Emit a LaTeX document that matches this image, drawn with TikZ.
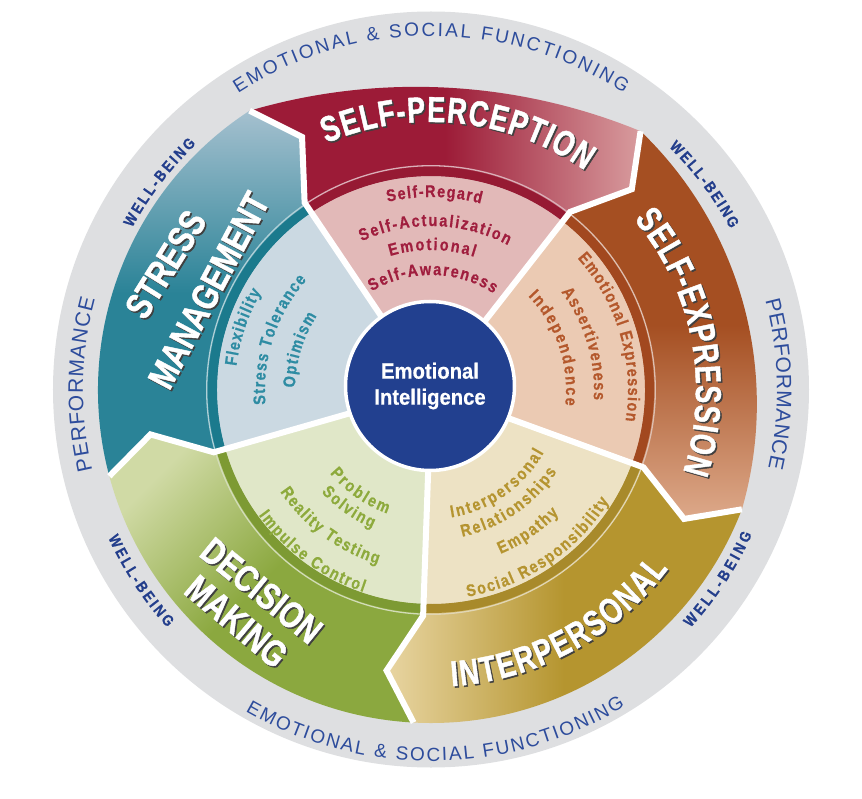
\documentclass[tikz,border=0pt]{standalone}
\usepackage{fontspec}
\setmainfont{Liberation Sans}
\newfontfamily\cndA[FakeStretch=0.75,FakeBold=1.2]{Liberation Sans}
\newfontfamily\cndB[FakeStretch=0.80,FakeBold=1.2]{Liberation Sans}
\newfontfamily\cndC[FakeStretch=0.85,FakeBold=0.6]{Liberation Sans}
\newfontfamily\cndD[FakeStretch=0.92,FakeBold=0.5]{Liberation Sans}
\usetikzlibrary{decorations.text}

\definecolor{ringgrey}{HTML}{DEDFE1}
\definecolor{ringblue}{HTML}{2D4C9C}
\definecolor{wbblue}{HTML}{233E8C}
\definecolor{eiblue}{HTML}{22408F}
\definecolor{spdark}{HTML}{9C1B37}
\definecolor{splight}{HTML}{D89C9E}
\definecolor{spin}{HTML}{E2B9B8}
\definecolor{spring}{HTML}{961A33}
\definecolor{sptext}{HTML}{A01E3E}
\definecolor{sedark}{HTML}{A54F22}
\definecolor{selight}{HTML}{DDA98A}
\definecolor{sein}{HTML}{EBCAB3}
\definecolor{sering}{HTML}{A2481F}
\definecolor{setext}{HTML}{B4582C}
\definecolor{ipdark}{HTML}{B5952F}
\definecolor{iplight}{HTML}{E8D5A2}
\definecolor{ipin}{HTML}{EDE2C4}
\definecolor{ipring}{HTML}{A88A2B}
\definecolor{iptext}{HTML}{B59430}
\definecolor{dmdark}{HTML}{8BA83F}
\definecolor{dmlight}{HTML}{D0DAA5}
\definecolor{dmin}{HTML}{E0E7C8}
\definecolor{dmring}{HTML}{7D9A33}
\definecolor{dmtext}{HTML}{8DAA3C}
\definecolor{smdark}{HTML}{2A8397}
\definecolor{smlight}{HTML}{A5C0CF}
\definecolor{smin}{HTML}{CBD9E2}
\definecolor{smring}{HTML}{1B7A8D}
\definecolor{smtext}{HTML}{2E8CA3}
\definecolor{shadowc}{HTML}{404040}

\newcommand\ttlfont{\cndA\bfseries\fontsize{36}{36}\selectfont}
\newcommand\nttlfont{\cndB\bfseries\fontsize{37}{37}\selectfont}
\newcommand\inrfont{\cndC\bfseries\fontsize{17}{17}\selectfont}
\newcommand\rngfont{\fontsize{19}{19}\selectfont}
\newcommand\wbfont{\cndC\bfseries\fontsize{15.5}{15.5}\selectfont}
\newcommand\perffont{\fontsize{21}{21}\selectfont}
\newcommand\eifont{\cndD\bfseries\fontsize{22}{26}\selectfont}

\tikzset{ttlnode/.style={font=\nttlfont,inner sep=0pt,text height=27pt,text depth=0pt}}

% #1 colour, #2 font, #3 radius, #4 start angle, #5 end angle, #6 text
\newcommand\arctext[6]{%
  \path[decorate,decoration={text along path,text align=fit to path,
        text={|#2\color{#1}|#6}}]
    (#4:#3) arc[start angle=#4,end angle=#5,radius=#3pt];}
% #1 radius, #2 start, #3 end, #4 text
\newcommand\arctitle[4]{%
  \path[xshift=1.5pt,yshift=-1.5pt,decorate,decoration={text along path,
        text align=fit to path,text={|\ttlfont\color{shadowc}|#4}}]
    (#2:#1) arc[start angle=#2,end angle=#3,radius=#1pt];
  \path[decorate,decoration={text along path,text align=fit to path,
        text={|\ttlfont\color{white}|#4}}]
    (#2:#1) arc[start angle=#2,end angle=#3,radius=#1pt];}
% #1 position, #2 rotation, #3 text, #4 name
\newcommand\nodetitle[4]{%
  \node[ttlnode,text=shadowc,xshift=1.5pt,yshift=-1.5pt,rotate=#2] at (#1) {#3};
  \node[ttlnode,text=white,rotate=#2] (#4) at (#1) {#3};}

\begin{document}
\begin{tikzpicture}[x=1pt,y=1pt,line join=miter,miter limit=10]
\useasboundingbox (-431,-408) rectangle (431,390);
\coordinate (O) at (0,0);
% chevron points on the five boundaries
\coordinate (Ja) at (124:226); \coordinate (Ka) at (117:284); \coordinate (Qa) at (123:333);
\coordinate (Jb) at (52:226);  \coordinate (Kb) at (45:284);  \coordinate (Qb) at (51:333);
\coordinate (Jc) at (-20:226); \coordinate (Kc) at (-27:284); \coordinate (Qc) at (-21:333);
\coordinate (Jd) at (-92:226); \coordinate (Kd) at (-99:284); \coordinate (Qd) at (-93:333);
\coordinate (Je) at (196:226); \coordinate (Ke) at (189:284); \coordinate (Qe) at (195:333);

% grey outer ring
\fill[ringgrey] (0,0.5) circle[radius=378pt];

% outer bands
\path[left color=spdark,right color=splight,middle color=spdark]
  (Jb) -- (Kb) -- (Qb) arc[start angle=67.65,end angle=106.35,radius=590.8pt]
  -- (Ka) -- (Ja) -- (124:214) arc[start angle=124,end angle=52,radius=214pt] -- cycle;
\path[top color=sedark,bottom color=selight,middle color=sedark]
  (Jc) -- (Kc) -- (Qc) arc[start angle=-16.17,end angle=46.15,radius=378.3pt]
  -- (Kb) -- (Jb) -- (52:214) arc[start angle=52,end angle=-20,radius=214pt] -- cycle;
\path[left color=iplight,right color=ipdark,middle color=ipdark]
  (Jd) -- (Kd) -- (Qd) arc[start angle=-93,end angle=-21,radius=333pt]
  -- (Kc) -- (Jc) -- (-20:214) arc[start angle=-20,end angle=-92,radius=214pt] -- cycle;
\path[top color=dmlight,bottom color=dmdark,middle color=dmdark,shading angle=45]
  (Je) -- (Ke) -- (Qe) arc[start angle=195,end angle=267,radius=333pt]
  -- (Kd) -- (Jd) -- (-92:214) arc[start angle=-92,end angle=-164,radius=214pt] -- cycle;
\path[top color=smlight,bottom color=smdark,middle color=smdark]
  (Ja) -- (Ka) -- (Qa) arc[start angle=123,end angle=195,radius=333pt]
  -- (Ke) -- (Je) -- (196:214) arc[start angle=196,end angle=124,radius=214pt] -- cycle;

% inner wedges
\fill[spin] (O) -- (52:214) arc[start angle=52,end angle=124,radius=214pt] -- cycle;
\fill[sein] (O) -- (-20:214) arc[start angle=-20,end angle=52,radius=214pt] -- cycle;
\fill[ipin] (O) -- (-92:214) arc[start angle=-92,end angle=-20,radius=214pt] -- cycle;
\fill[dmin] (O) -- (-164:214) arc[start angle=-164,end angle=-92,radius=214pt] -- cycle;
\fill[smin] (O) -- (124:214) arc[start angle=124,end angle=196,radius=214pt] -- cycle;

% dark inner rings and thin light lines
\draw[spring,line width=9pt] (52:218.5) arc[start angle=52,end angle=124,radius=218.5pt];
\draw[sering,line width=9pt] (-20:218.5) arc[start angle=-20,end angle=52,radius=218.5pt];
\draw[ipring,line width=9pt] (-92:218.5) arc[start angle=-92,end angle=-20,radius=218.5pt];
\draw[dmring,line width=9pt] (-164:218.5) arc[start angle=-164,end angle=-92,radius=218.5pt];
\draw[smring,line width=9pt] (124:218.5) arc[start angle=124,end angle=196,radius=218.5pt];
\draw[spring!35!white,line width=1.3pt] (52:224.3) arc[start angle=52,end angle=124,radius=224.3pt];
\draw[sering!35!white,line width=1.3pt] (-20:224.3) arc[start angle=-20,end angle=52,radius=224.3pt];
\draw[ipring!35!white,line width=1.3pt] (-92:224.3) arc[start angle=-92,end angle=-20,radius=224.3pt];
\draw[dmring!35!white,line width=1.3pt] (-164:224.3) arc[start angle=-164,end angle=-92,radius=224.3pt];
\draw[smring!35!white,line width=1.3pt] (124:224.3) arc[start angle=124,end angle=196,radius=224.3pt];

% white separators
\draw[white,line width=6pt] (O) -- (Ja) -- (Ka) -- (Qa);
\draw[white,line width=6pt] (O) -- (Jb) -- (Kb) -- (Qb);
\draw[white,line width=6pt] (O) -- (Jc) -- (Kc) -- (Qc);
\draw[white,line width=6pt] (O) -- (Jd) -- (Kd) -- (Qd);
\draw[white,line width=6pt] (O) -- (Je) -- (Ke) -- (Qe);

% centre
\node[circle,fill=eiblue,draw=white,line width=3.5pt,minimum size=169pt,inner sep=0pt,
      text=white,align=center,font=\eifont] (ei) at (-1,4) {Emotional\\Intelligence};

% ring texts
\arctext{ringblue}{\rngfont}{354}{123}{57}{EMOTIONAL {\&} SOCIAL FUNCTIONING}
\arctext{ringblue}{\rngfont}{371}{-120}{-58.5}{EMOTIONAL {\&} SOCIAL FUNCTIONING}
\arctext{ringblue}{\perffont}{348}{193.3}{164.9}{PERFORMANCE}
\arctext{ringblue}{\perffont}{346}{15}{-13}{PERFORMANCE}
\arctext{wbblue}{\wbfont}{340}{151.5}{133.7}{WELL-BEING}
\arctext{wbblue}{\wbfont}{340}{45.6}{28.3}{WELL-BEING}
\arctext{wbblue}{\wbfont}{355}{204.6}{222}{WELL-BEING}
\arctext{wbblue}{\wbfont}{352}{-42.5}{-24.2}{WELL-BEING}

% titles
\arctitle{268}{113}{55}{SELF-PERCEPTION}
\arctitle{265}{40}{-18}{SELF-EXPRESSION}
\arctitle{297}{-86}{-37}{INTERPERSONAL}
\nodetitle{-266,126}{58}{STRESS}{st}
\nodetitle{-223,100}{62}{MANAGEMENT}{mg}
\nodetitle{-169,-200}{-39}{DECISION}{dc}
\nodetitle{-194,-231}{-40}{MAKING}{mk}

% inner texts
\arctext{sptext}{\inrfont}{193}{103}{75}{Self-Regard}
\arctext{sptext}{\inrfont}{164}{115}{62}{Self-Actualization}
\arctext{sptext}{\inrfont}{140}{107}{72}{Emotional}
\arctext{sptext}{\inrfont}{115}{121}{57}{Self-Awareness}
\arctext{setext}{\inrfont}{197}{42}{-9}{Emotional Expression}
\arctext{setext}{\inrfont}{163}{37}{-3.5}{Assertiveness}
\arctext{setext}{\inrfont}{135}{44}{-6.5}{Independence}
\arctext{iptext}{\inrfont}{210}{-80}{-32}{Social Responsibility}
\arctext{iptext}{\inrfont}{178}{-67}{-44}{Empathy}
\arctext{iptext}{\inrfont}{150}{-78}{-33}{Relationships}
\arctext{iptext}{\inrfont}{129}{-81}{-29}{Interpersonal}
\arctext{dmtext}{\inrfont}{213}{-144}{-108.5}{Impulse Control}
\arctext{dmtext}{\inrfont}{182}{-146}{-107}{Reality Testing}
\arctext{dmtext}{\inrfont}{150}{-137}{-113}{Solving}
\arctext{dmtext}{\inrfont}{131}{-140.5}{-109.5}{Problem}
\arctext{smtext}{\inrfont}{196}{173}{150}{Flexibility}
\arctext{smtext}{\inrfont}{166}{185}{138.5}{Stress Tolerance}
\arctext{smtext}{\inrfont}{136}{179}{147}{Optimism}
\end{tikzpicture}
\end{document}
